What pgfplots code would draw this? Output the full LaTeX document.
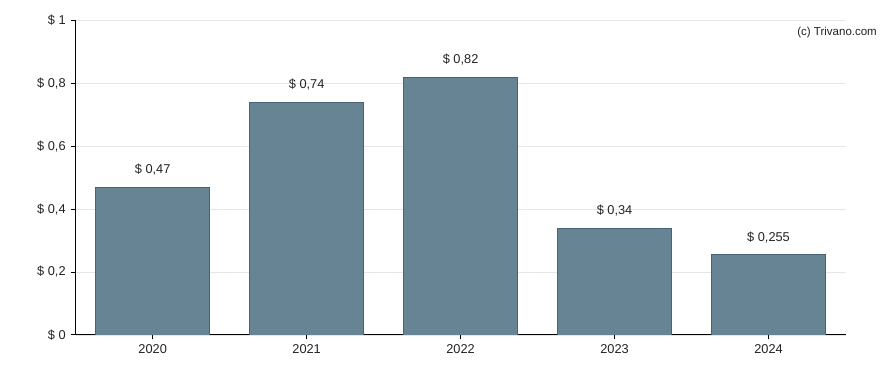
\documentclass[border=0pt]{standalone}
\usepackage{fontspec}
\setmainfont{Liberation Sans}
\usepackage{pgfplots}
\pgfplotsset{compat=1.18}
\definecolor{barfill}{RGB}{103,132,148}
\definecolor{baredge}{RGB}{72,98,118}
\definecolor{gridc}{RGB}{230,230,230}
\definecolor{txt}{RGB}{34,34,34}
\begin{document}
\begin{tikzpicture}
\begin{axis}[
  scale only axis,
  width=770pt, height=314.5pt,
  xmin=-0.5, xmax=4.5, ymin=0, ymax=1,
  axis x line*=bottom, axis y line*=left,
  axis line style={black, line width=0.9pt},
  xtick={0,1,2,3,4},
  xticklabels={2020,2021,2022,2023,2024},
  ytick={0,0.2,0.4,0.6,0.8,1},
  yticklabels={\$ 0,\$ 0{,}2,\$ 0{,}4,\$ 0{,}6,\$ 0{,}8,\$ 1},
  ymajorgrids, grid style={gridc, line width=0.8pt},
  tick style={black, line width=0.9pt},
  tick align=outside,
  major tick length=4.5pt,
  ticklabel style={font=\fontsize{12.8}{15}\selectfont, text=txt},
  yticklabel style={xshift=-2pt},
  xticklabel style={yshift=-1.5pt},
  point meta=explicit symbolic,
  nodes near coords,
  nodes near coords style={font=\fontsize{12.8}{15}\selectfont, text=txt, anchor=south, yshift=8pt},
]
\addplot[ybar, bar width=114pt, fill=barfill, draw=baredge, line width=0.8pt]
  coordinates {
    (0,0.47) [\$ 0{,}47]
    (1,0.74) [\$ 0{,}74]
    (2,0.82) [\$ 0{,}82]
    (3,0.34) [\$ 0{,}34]
    (4,0.255) [\$ 0{,}255]
  };
\coordinate (o) at (rel axis cs:0,0);
\coordinate (t) at (rel axis cs:1,1);
\end{axis}
\node[anchor=east, font=\fontsize{11.5}{14}\selectfont, text=txt, inner sep=0pt] at ([shift={(31.5pt,-12.5pt)}]t) {(c) Trivano.com};
\pgfresetboundingbox
\path[use as bounding box] ([shift={(-75.7pt,-35pt)}]o) rectangle ([shift={(42.5pt,20.5pt)}]t);
\end{tikzpicture}
\end{document}
